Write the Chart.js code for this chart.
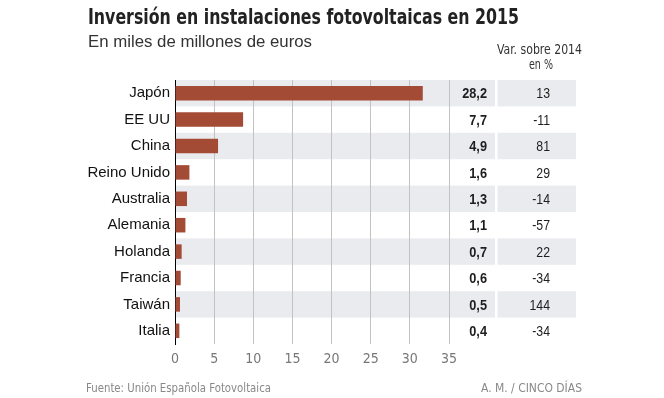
<!DOCTYPE html>
<html>
<head>
<meta charset="utf-8">
<script src="https://cdn.jsdelivr.net/npm/chart.js@4.4.1/dist/chart.umd.min.js"></script>
<style>
  html, body { margin:0; padding:0; background:#fff; }
  #wrap { position:relative; width:664px; height:398px; overflow:hidden; }
  canvas { position:absolute; left:0; top:0; }
  .t { position:absolute; white-space:nowrap; transform-origin:0 0; }
  #title { left:88px; top:4px; font:bold 22px 'Liberation Sans Narrow','DejaVu Sans Condensed','Roboto Condensed',sans-serif; color:#222; }
  #subtitle { left:88px; top:33px; font:16px 'Liberation Sans',Arial,sans-serif; color:#333; }
  #hdr1 { top:41px; font:14px 'Liberation Sans Narrow','DejaVu Sans Condensed',sans-serif; color:#333; }
  #hdr2 { top:56px; font:14px 'Liberation Sans Narrow','DejaVu Sans Condensed',sans-serif; color:#333; }
  #src { left:86px; top:380px; font:13px 'Liberation Sans Narrow','DejaVu Sans Condensed',sans-serif; color:#888; }
  #credit { left:481px; top:380px; font:13px 'Liberation Sans Narrow','DejaVu Sans Condensed',sans-serif; color:#888; }
</style>
</head>
<body>
<div id="wrap">
  <canvas id="c" width="664" height="398"></canvas>
  <div class="t" id="title">Inversión en instalaciones fotovoltaicas en 2015</div>
  <div class="t" id="subtitle">En miles de millones de euros</div>
  <div class="t" id="hdr1">Var. sobre 2014</div>
  <div class="t" id="hdr2">en %</div>
  <div class="t" id="src">Fuente: Unión Española Fotovoltaica</div>
  <div class="t" id="credit">A. M. / CINCO DÍAS</div>
</div>
<script>
// Data
const countries = ['Japón','EE UU','China','Reino Unido','Australia','Alemania','Holanda','Francia','Taiwán','Italia'];
const barValues = [31.65, 8.7, 5.5, 1.84, 1.53, 1.33, 0.85, 0.73, 0.64, 0.56];
const valueLabels = ['28,2','7,7','4,9','1,6','1,3','1,1','0,7','0,6','0,5','0,4'];
const variation = ['13','-11','81','29','-14','-57','22','-34','144','-34'];
const xTicks = [0,5,10,15,20,25,30,35];

const narrow = "'Liberation Sans Narrow','DejaVu Sans Condensed','Roboto Condensed',sans-serif";
const bandColor = '#e9ebee';
const bandRight = 576, gapL = 495, gapR = 497.5;

function condensedText(ctx, text, x, y, font, sx) {
  ctx.save();
  ctx.font = font;
  ctx.translate(x, y);
  ctx.scale(sx, 1);
  ctx.textAlign = 'right';
  ctx.textBaseline = 'middle';
  ctx.fillText(text, 0, 0);
  ctx.restore();
}

const bandsPlugin = {
  id: 'bands',
  beforeDraw(chart) {
    const {ctx, chartArea, scales:{y}} = chart;
    const pitch = (chartArea.bottom - chartArea.top) / countries.length;
    ctx.save();
    ctx.fillStyle = bandColor;
    countries.forEach((c, i) => {
      if (i % 2 !== 0) return;
      const yc = y.getPixelForValue(i);
      const top = yc - pitch/2;
      ctx.fillRect(chartArea.left, top, gapL - chartArea.left, pitch);
      ctx.fillRect(gapR, top, bandRight - gapR, pitch);
    });
    ctx.restore();
  },
  afterDatasetsDraw(chart) {
    const {ctx, scales:{y}} = chart;
    ctx.save();
    ctx.fillStyle = '#1e1e1e';
    valueLabels.forEach((v, i) => {
      const yc = y.getPixelForValue(i) + 1;
      condensedText(ctx, v, 487, yc, "bold 15px 'Liberation Sans', Arial, sans-serif", 0.85);
      condensedText(ctx, variation[i], 550, yc, "15px 'Liberation Sans', Arial, sans-serif", 0.82);
    });
    ctx.restore();
  }
};

new Chart(document.getElementById('c'), {
  type: 'bar',
  data: {
    labels: countries,
    datasets: [{
      data: barValues,
      backgroundColor: '#a44b36',
      borderWidth: 0,
      barPercentage: 0.55,
      categoryPercentage: 1.0
    }]
  },
  options: {
    indexAxis: 'y',
    responsive: false,
    animation: false,
    devicePixelRatio: 1,
    layout: { padding: { left: 0, right: 215, top: 80, bottom: 0 } },
    plugins: { legend: { display: false }, tooltip: { enabled: false }, title: { display: false } },
    scales: {
      x: {
        min: 0, max: 35,
        afterBuildTicks(scale) { scale.ticks = xTicks.map(v => ({ value: v })); },
        afterFit(scale) { scale.height = 54; },
        ticks: { color: '#777', font: { size: 14, family: narrow }, padding: 7 },
        grid: {
          drawTicks: false,
          color: (c) => (c.tick && c.tick.value === 0) ? 'rgba(0,0,0,0)' : '#c2c2c2',
          lineWidth: 1
        },
        border: { display: false }
      },
      y: {
        afterFit(scale) { scale.width = 175; },
        ticks: { color: '#111', font: { size: 15, family: "'Liberation Sans', Arial, sans-serif" }, padding: 5 },
        grid: { display: false, drawTicks: false },
        border: { display: true, color: '#000', width: 1 }
      }
    }
  },
  plugins: [bandsPlugin]
});

// fit header texts to widths in the reference
function fit(id, w) {
  const el = document.getElementById(id);
  const cw = el.getBoundingClientRect().width;
  if (cw > 0) el.style.transform = 'scaleX(' + (w / cw) + ')';
}
function fitCenter(id, cx, w) {
  const el = document.getElementById(id);
  const cw = el.getBoundingClientRect().width;
  if (cw > 0) {
    el.style.left = (cx - w / 2) + 'px';
    el.style.transform = 'scaleX(' + (w / cw) + ')';
  }
}
fit('title', 431);
fit('subtitle', 224);
fit('src', 185);
fit('credit', 101);
fitCenter('hdr1', 539.5, 85);
fitCenter('hdr2', 540.5, 24);
</script>
</body>
</html>
